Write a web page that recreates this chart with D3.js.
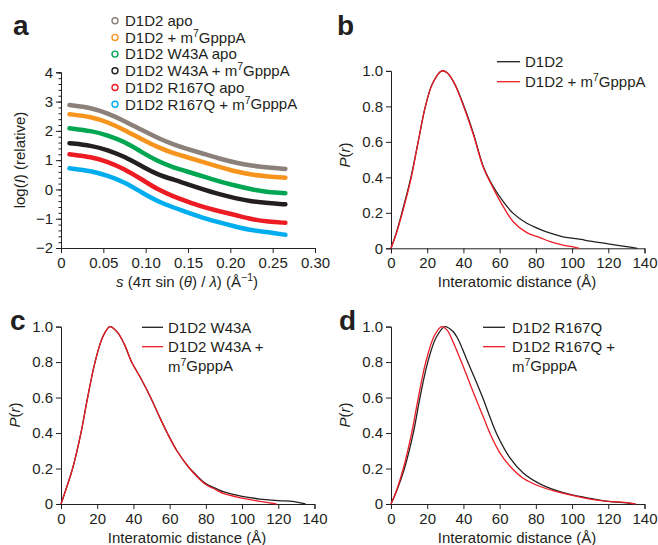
<!DOCTYPE html>
<html>
<head>
<meta charset="utf-8">
<script src="https://cdn.jsdelivr.net/npm/d3@7"></script>
<style>
  body { margin: 0; background: #fff; }
  svg text { font-family: "Liberation Sans", Arial, Helvetica, sans-serif; fill: #231f20; }
</style>
</head>
<body>
<svg id="chart" width="658" height="545"></svg>
<script>
// ---------- Panel a data: log(I) vs s ----------
const sValues = [0.010, 0.036, 0.055, 0.075, 0.095, 0.115, 0.134, 0.147, 0.166, 0.186, 0.206, 0.225, 0.245, 0.265];
const aGray   = [2.88, 2.79, 2.60, 2.34, 2.03, 1.75, 1.52, 1.40, 1.24, 1.06, 0.915, 0.81, 0.745, 0.70];
const aOrange = [2.57, 2.48, 2.30, 2.03, 1.72, 1.43, 1.22, 1.12, 0.95, 0.78, 0.61, 0.50, 0.44, 0.40];
const aGreen  = [2.09, 2.00, 1.85, 1.63, 1.28, 0.95, 0.74, 0.63, 0.46, 0.28, 0.13, 0.00, -0.10, -0.13];
const aBlack  = [1.58, 1.50, 1.35, 1.12, 0.80, 0.49, 0.33, 0.20, 0.02, -0.16, -0.30, -0.41, -0.47, -0.51];
const aRed    = [1.20, 1.11, 0.95, 0.70, 0.35, -0.02, -0.25, -0.39, -0.59, -0.74, -0.87, -1.02, -1.10, -1.14];
const aBlue   = [0.72, 0.63, 0.47, 0.25, -0.10, -0.42, -0.63, -0.76, -0.96, -1.12, -1.27, -1.40, -1.46, -1.55];
const aLegend = [
  ["D1D2 apo", null, ""],
  ["D1D2 + m", "7", "GpppA"],
  ["D1D2 W43A apo", null, ""],
  ["D1D2 W43A + m", "7", "GpppA"],
  ["D1D2 R167Q apo", null, ""],
  ["D1D2 R167Q + m", "7", "GpppA"]
];
const aColors = ["#8c807b", "#f7941d", "#00a651", "#231f20", "#ed1c24", "#00aeef"];
const aXTicks = [0, 0.05, 0.10, 0.15, 0.20, 0.25, 0.30];
const aYTicks = [-2, -1, 0, 1, 2, 3, 4];

// ---------- Panel b data: P(r) ----------
const bBlackR = [0, 3, 6, 11, 15, 19, 23, 28, 31, 35, 39, 45.5, 51, 56.5, 62, 67.5, 75, 82.3, 88, 95, 100, 105, 110, 120, 130, 136];
const bBlackP = [0, 0.09, 0.2, 0.4, 0.6, 0.8, 0.93, 1.0, 0.99, 0.93, 0.836, 0.648, 0.46, 0.347, 0.263, 0.197, 0.141, 0.107, 0.085, 0.065, 0.057, 0.05, 0.04, 0.025, 0.01, 0];
const bRedR   = [0, 3, 6, 11, 15, 19, 23, 28, 31, 35, 39, 45.5, 51, 56.5, 62, 67.5, 75, 82.3, 88, 95, 100, 104];
const bRedP   = [0, 0.085, 0.19, 0.39, 0.6, 0.8, 0.93, 1.0, 0.99, 0.93, 0.83, 0.64, 0.455, 0.338, 0.235, 0.15, 0.088, 0.06, 0.037, 0.018, 0.009, 0];

// ---------- Panel c data ----------
const cBlackR = [0, 3, 6.4, 11, 14.7, 18.8, 23, 27, 31, 35, 39, 44, 49.5, 54, 58.7, 64, 70.3, 75, 80, 86, 90, 100, 110, 120, 128, 135];
const cBlackP = [0, 0.09, 0.2, 0.4, 0.6, 0.8, 0.94, 1.0, 0.97, 0.9, 0.8, 0.71, 0.6, 0.5, 0.4, 0.3, 0.21, 0.16, 0.115, 0.085, 0.068, 0.043, 0.028, 0.019, 0.015, 0];
const cRedR   = [0, 3, 6.4, 11, 14.7, 18.8, 23, 27, 31, 35, 39, 44, 49.5, 54, 58.7, 64, 70.3, 75, 80, 86, 90, 100, 110, 119];
const cRedP   = [0, 0.09, 0.2, 0.4, 0.6, 0.8, 0.94, 1.0, 0.97, 0.9, 0.8, 0.71, 0.6, 0.5, 0.4, 0.3, 0.21, 0.155, 0.11, 0.078, 0.058, 0.033, 0.015, 0];

// ---------- Panel d data ----------
const dBlackR = [0, 3, 7.4, 12.3, 16, 20.3, 25, 29.8, 34, 37, 42, 47, 51, 55, 58.4, 65.7, 73, 82, 91.5, 100, 110, 120, 130, 135];
const dBlackP = [0, 0.07, 0.2, 0.4, 0.6, 0.8, 0.94, 1.0, 0.975, 0.93, 0.81, 0.69, 0.59, 0.48, 0.395, 0.26, 0.175, 0.115, 0.075, 0.051, 0.032, 0.015, 0.006, 0];
const dRedR   = [0, 3, 6.8, 11.4, 15.1, 19.2, 24, 28, 31, 34, 38.5, 42, 47, 51, 55, 60, 66, 73, 82, 91.5, 102, 110, 120, 130, 135];
const dRedP   = [0, 0.075, 0.2, 0.4, 0.6, 0.8, 0.95, 1.0, 0.98, 0.92, 0.81, 0.72, 0.59, 0.49, 0.39, 0.29, 0.21, 0.145, 0.1, 0.07, 0.044, 0.028, 0.015, 0.008, 0];

const prXTicks = [0, 20, 40, 60, 80, 100, 120, 140];
const prYTicks = [0, 0.2, 0.4, 0.6, 0.8, 1.0];

const svg = d3.select("#chart");
const FS = 15;
const SUP = 10.5;
const INK = "#231f20";

function styleAxis(g) {
  g.selectAll("path.domain").attr("stroke", INK).attr("stroke-width", 1);
  g.selectAll(".tick line").attr("stroke", INK).attr("stroke-width", 1);
  g.selectAll(".tick text").attr("font-size", FS).attr("fill", INK)
    .attr("font-family", '"Liberation Sans", Arial, sans-serif');
}

function addSup(textSel, parts) {
  textSel.append("tspan").text(parts[0]);
  if (parts[1]) {
    textSel.append("tspan").attr("font-size", SUP).attr("dy", "-0.55em").text(parts[1]);
    textSel.append("tspan").attr("dy", "0.38em").text(parts[2]);
  }
}

// ================= Panel a =================
(function () {
  const x = d3.scaleLinear().domain([0, 0.30]).range([61, 315]);
  const y = d3.scaleLinear().domain([-2, 4]).range([248, 72.3]);

  const gMinor = svg.append("g").attr("transform", "translate(61,0)")
    .call(d3.axisLeft(y).tickValues(d3.range(-2, 4.01, 0.2)).tickSize(2.5).tickFormat(""));
  styleAxis(gMinor);

  const gx = svg.append("g").attr("transform", "translate(0,248)")
    .call(d3.axisBottom(x).tickValues(aXTicks).tickSize(5).tickPadding(4)
      .tickFormat(d => d === 0 ? "0" : d3.format(".2f")(d)));
  styleAxis(gx);
  const gy = svg.append("g").attr("transform", "translate(61,0)")
    .call(d3.axisLeft(y).tickValues(aYTicks).tickSize(5).tickPadding(3)
      .tickFormat(d => d < 0 ? "\u2212" + Math.abs(d) : d));
  styleAxis(gy);

  const series = [aGray, aOrange, aGreen, aBlack, aRed, aBlue];
  const line = d3.line().x((d, i) => x(sValues[i])).y(d => y(d)).curve(d3.curveBasis);
  series.forEach((vals, k) => {
    svg.append("path").datum(vals).attr("d", line)
      .attr("fill", "none").attr("stroke", aColors[k]).attr("stroke-width", 4.5)
      .attr("stroke-linecap", "round");
  });

  aLegend.forEach((parts, k) => {
    const cy = 20.7 + k * 16.7;
    svg.append("circle").attr("cx", 115).attr("cy", cy).attr("r", 3)
      .attr("fill", "none").attr("stroke", aColors[k]).attr("stroke-width", 1.4);
    const t = svg.append("text").attr("x", 125).attr("y", cy + 5.3).attr("font-size", FS);
    addSup(t, parts);
  });

  const xt = svg.append("text").attr("x", 187).attr("y", 287).attr("font-size", FS).attr("text-anchor", "middle");
  xt.append("tspan").attr("font-style", "italic").text("s");
  xt.append("tspan").text(" (4\u03c0 sin (");
  xt.append("tspan").attr("font-style", "italic").text("\u03b8");
  xt.append("tspan").text(") / ");
  xt.append("tspan").attr("font-style", "italic").text("\u03bb");
  xt.append("tspan").text(") (\u00c5");
  xt.append("tspan").attr("font-size", SUP).attr("dy", "-0.55em").text("\u22121");
  xt.append("tspan").attr("dy", "0.38em").text(")");

  const yt = svg.append("text").attr("transform", "translate(25,160) rotate(-90)")
    .attr("font-size", FS).attr("text-anchor", "middle");
  yt.append("tspan").text("log(");
  yt.append("tspan").attr("font-style", "italic").text("I");
  yt.append("tspan").text(") (relative)");

  svg.append("text").attr("x", 13).attr("y", 35).attr("font-size", 28).attr("font-weight", "bold").text("a");
})();

// ================= P(r) panels =================
function prPanel(opt) {
  const x = d3.scaleLinear().domain([0, 140]).range([opt.x0, opt.x0 + 253.5]);
  const y = d3.scaleLinear().domain([0, 1]).range([opt.yb, opt.yb - 177.4]);

  const gx = svg.append("g").attr("transform", `translate(0,${opt.yb})`)
    .call(d3.axisBottom(x).tickValues(prXTicks).tickSize(5).tickPadding(4));
  styleAxis(gx);
  const gy = svg.append("g").attr("transform", `translate(${opt.x0},0)`)
    .call(d3.axisLeft(y).tickValues(prYTicks).tickSize(5).tickPadding(3)
      .tickFormat(d => d === 0 ? "0" : d3.format(".1f")(d)));
  styleAxis(gy);

  const line = d3.line().x(d => x(d[0])).y(d => y(Math.max(0, d[1])))
    .curve(d3.curveCatmullRom.alpha(0.5));
  svg.append("path").datum(d3.zip(opt.blackR, opt.blackP)).attr("d", line)
    .attr("fill", "none").attr("stroke", INK).attr("stroke-width", 1.3);
  svg.append("path").datum(d3.zip(opt.redR, opt.redP)).attr("d", line)
    .attr("fill", "none").attr("stroke", "#ed1c24").attr("stroke-width", 1.3);

  const L = opt.legend;
  svg.append("line").attr("x1", L.lx1).attr("x2", L.lx2).attr("y1", L.y1).attr("y2", L.y1)
    .attr("stroke", INK).attr("stroke-width", 1.3);
  svg.append("line").attr("x1", L.lx1).attr("x2", L.lx2).attr("y1", L.y2).attr("y2", L.y2)
    .attr("stroke", "#ed1c24").attr("stroke-width", 1.3);
  svg.append("text").attr("x", L.tx).attr("y", L.y1 + 5.3).attr("font-size", FS).text(L.t1);
  L.t2.forEach((parts, i) => {
    const t = svg.append("text").attr("x", L.tx).attr("y", L.y2 + 5.3 + i * 19.5).attr("font-size", FS);
    addSup(t, parts);
  });

  svg.append("text").attr("x", opt.x0 + 126).attr("y", opt.yb + 39).attr("font-size", FS)
    .attr("text-anchor", "middle").text("Interatomic distance (\u00c5)");
  const yt = svg.append("text").attr("transform", `translate(${opt.x0 - 41},${opt.ytitleY}) rotate(-90)`)
    .attr("font-size", FS).attr("text-anchor", "middle");
  yt.append("tspan").attr("font-style", "italic").text("P");
  yt.append("tspan").text("(");
  yt.append("tspan").attr("font-style", "italic").text("r");
  yt.append("tspan").text(")");

  svg.append("text").attr("x", opt.lab[0]).attr("y", opt.lab[1]).attr("font-size", 28)
    .attr("font-weight", "bold").text(opt.label);
}

prPanel({
  x0: 391, yb: 248.3, ytitleY: 155, label: "b", lab: [337, 35],
  blackR: bBlackR, blackP: bBlackP, redR: bRedR, redP: bRedP,
  legend: { lx1: 497, lx2: 520, tx: 525, y1: 61.7, y2: 81.7, t1: "D1D2",
            t2: [["D1D2 + m", "7", "GpppA"]] }
});
prPanel({
  x0: 61, yb: 504, ytitleY: 415, label: "c", lab: [10, 330],
  blackR: cBlackR, blackP: cBlackP, redR: cRedR, redP: cRedP,
  legend: { lx1: 142, lx2: 163, tx: 168, y1: 327.3, y2: 346.7, t1: "D1D2 W43A",
            t2: [["D1D2 W43A +", null, ""], ["m", "7", "GpppA"]] }
});
prPanel({
  x0: 391, yb: 504, ytitleY: 415, label: "d", lab: [339, 330],
  blackR: dBlackR, blackP: dBlackP, redR: dRedR, redP: dRedP,
  legend: { lx1: 483, lx2: 505, tx: 512, y1: 327.3, y2: 346.7, t1: "D1D2 R167Q",
            t2: [["D1D2 R167Q +", null, ""], ["m", "7", "GpppA"]] }
});
</script>
</body>
</html>
